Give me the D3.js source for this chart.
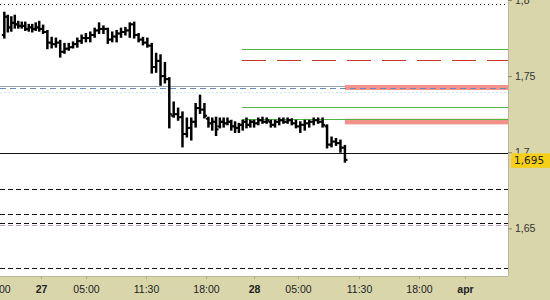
<!DOCTYPE html>
<html>
<head>
<meta charset="utf-8">
<script src="https://cdn.jsdelivr.net/npm/d3@7/dist/d3.min.js"></script>
<style>
  body { margin: 0; background: #ffffff; }
  svg { display: block; font-family: "DejaVu Sans", Verdana, sans-serif; }
</style>
</head>
<body>
<div id="chart"></div>
<script>
// bar prices (half-hour-ish bars from 26th evening to 28th morning)
const highs = [1.792,1.790,1.789,1.790,1.786,1.7855,1.7855,1.784,1.784,1.785,1.786,1.7835,1.780,1.7755,1.775,1.7735,1.7715,1.7715,1.7725,1.775,
  1.777,1.778,1.779,1.7815,1.785,1.783,1.7815,1.779,1.780,1.7815,1.782,1.785,1.7855,1.778,1.7755,1.775,1.7715,1.765,1.764,1.759,
  1.749,1.733,1.729,1.7265,1.7225,1.7225,1.732,1.7375,1.732,1.723,1.7225,1.723,1.7225,1.7225,1.7225,1.721,1.720,1.719,1.721,1.7225,
  1.721,1.721,1.7225,1.723,1.7225,1.721,1.721,1.7225,1.7225,1.7225,1.722,1.721,1.720,1.721,1.721,1.7225,1.7225,1.7225,1.718,1.710,
  1.709,1.708,1.7045];
const lows = [1.775,1.779,1.7795,1.7815,1.7815,1.7815,1.780,1.7795,1.779,1.780,1.7795,1.778,1.768,1.7685,1.769,1.7625,1.765,1.767,1.7685,1.769,
  1.7715,1.7725,1.7725,1.7755,1.778,1.778,1.7715,1.7725,1.7725,1.7755,1.777,1.7755,1.775,1.7725,1.7705,1.769,1.752,1.7525,1.744,1.7455,
  1.716,1.723,1.721,1.7035,1.710,1.708,1.7165,1.7255,1.7225,1.7165,1.7145,1.711,1.716,1.7165,1.718,1.7145,1.713,1.713,1.7145,1.716,
  1.7165,1.7165,1.718,1.719,1.719,1.7165,1.7165,1.718,1.719,1.719,1.718,1.716,1.713,1.7145,1.7165,1.718,1.719,1.7165,1.7028,1.7035,
  1.7045,1.700,1.6935];
const opens = [1.777,1.789,1.782,1.785,1.784,1.783,1.783,1.781,1.782,1.781,1.782,1.781,1.779,1.772,1.771,1.772,1.766,1.768,1.769,1.771,
  1.773,1.775,1.775,1.777,1.780,1.781,1.781,1.774,1.776,1.778,1.779,1.780,1.784,1.777,1.774,1.772,1.770,1.756,1.760,1.750,
  1.748,1.724,1.725,1.723,1.712,1.716,1.720,1.729,1.728,1.722,1.719,1.720,1.717,1.720,1.719,1.720,1.717,1.716,1.718,1.720,
  1.718,1.720,1.719,1.721,1.720,1.720,1.718,1.720,1.721,1.720,1.721,1.719,1.717,1.718,1.719,1.720,1.721,1.720,1.717,1.705,
  1.707,1.706,1.703];
const closes = [1.789,1.782,1.785,1.784,1.783,1.783,1.781,1.782,1.781,1.782,1.781,1.779,1.772,1.771,1.772,1.766,1.768,1.769,1.771,1.773,
  1.775,1.775,1.777,1.780,1.781,1.781,1.774,1.776,1.778,1.779,1.780,1.784,1.777,1.774,1.772,1.770,1.756,1.760,1.750,1.748,
  1.725,1.725,1.723,1.712,1.716,1.720,1.729,1.728,1.724,1.719,1.720,1.715,1.720,1.719,1.720,1.717,1.716,1.718,1.720,1.718,
  1.720,1.719,1.721,1.720,1.721,1.718,1.720,1.721,1.720,1.721,1.719,1.717,1.718,1.719,1.720,1.721,1.720,1.718,1.705,1.707,
  1.706,1.703,1.695];

// first and last bar time, hours from the 27th 00:00
const firstBarHour = -5.0;
const lastBarHour = 34.0;

// time axis
const tickHours = [-6, 0, 5, 11.5, 18, 24, 29, 35.5, 42, 48];
const tickLabels = ["18:00", "27", "05:00", "11:30", "18:00", "28", "05:00", "11:30", "18:00", "apr"];
const tickPixels = [-3, 41, 86, 146, 206, 254, 298, 359, 419, 465];

// price axis
const priceTicks = [1.65, 1.7, 1.75, 1.8];
const lastPrice = 1.695;

// horizontal levels: price, start hour (null = from left edge), end hour (null = to right edge)
const levelPrices = [1.7974, 1.7677, 1.7606, 1.7437, 1.742, 1.7395, 1.7295, 1.722, 1.6992, 1.6756, 1.6592, 1.6534, 1.6522, 1.624];
const levelStarts = [null, 22.5, 22.5, null, null, null, 22.5, 22.5, null, null, null, null, null, null];
const levelEnds = [null, null, null, 34.0, null, null, null, null, null, null, null, null, null, null];
const levelKinds = ["dotted", "green", "reddash", "gray", "bluedash", "cyandot", "green", "green", "black", "dash", "dash", "dash", "pinkdash", "dash"];

// salmon zones
const zoneHigh = [1.7442, 1.7220];
const zoneLow = [1.7409, 1.7183];
const zoneStart = 34.0;

const W = 550, H = 300;
const plotW = 508, plotH = 276;

const svg = d3.select("#chart").append("svg")
  .attr("width", W)
  .attr("height", H);

// axis backgrounds
svg.append("rect").attr("width", W).attr("height", H).attr("fill", "#d9d6ab");
svg.append("rect").attr("width", plotW).attr("height", plotH).attr("fill", "#ffffff");

const x = d3.scaleLinear().domain(tickHours).range(tickPixels);
const y = d3.scaleLinear().domain([1.6187, 1.8]).range([plotH, 0]);

const plot = svg.append("g");

const styles = {
  dotted:   { color: "#222", width: 1, dash: "1,3" },
  green:    { color: "#4fb63f", width: 1, dash: null },
  reddash:  { color: "#c0392b", width: 1, dash: "24,11" },
  gray:     { color: "#9aa4b0", width: 1, dash: null },
  bluedash: { color: "#7088b8", width: 1, dash: "6,4" },
  cyandot:  { color: "#cfe8f2", width: 1, dash: "2,2" },
  black:    { color: "#111", width: 1, dash: null },
  dash:     { color: "#111", width: 1, dash: "5,3" },
  pinkdash: { color: "#c99ac9", width: 1, dash: "5,3" }
};

// salmon zones
plot.selectAll(".zone")
  .data(zoneHigh.map((h, i) => ({ hi: h, lo: zoneLow[i] })))
  .enter().append("rect")
  .attr("class", "zone")
  .attr("x", x(zoneStart))
  .attr("width", plotW - x(zoneStart))
  .attr("y", d => y(d.hi))
  .attr("height", d => y(d.lo) - y(d.hi))
  .attr("fill", "#f2928a");

// levels
plot.selectAll(".level")
  .data(levelPrices.map((p, i) => ({ p: p, s: levelStarts[i], e: levelEnds[i], k: levelKinds[i] })))
  .enter().append("line")
  .attr("class", "level")
  .attr("x1", d => d.s === null ? 0 : x(d.s))
  .attr("x2", d => d.e === null ? plotW : x(d.e))
  .attr("y1", d => Math.round(y(d.p)) + 0.5)
  .attr("y2", d => Math.round(y(d.p)) + 0.5)
  .attr("stroke", d => styles[d.k].color)
  .attr("stroke-width", d => styles[d.k].width)
  .attr("stroke-dasharray", d => styles[d.k].dash);

// OHLC bars
const step = (lastBarHour - firstBarHour) / (highs.length - 1);
const bars = highs.map((h, i) => ({
  t: firstBarHour + i * step,
  h: h, l: lows[i], o: opens[i], c: closes[i]
}));

const barG = plot.selectAll(".bar")
  .data(bars)
  .enter().append("g")
  .attr("class", "bar");

barG.append("line")
  .attr("x1", d => x(d.t)).attr("x2", d => x(d.t))
  .attr("y1", d => y(d.h) - 0.5).attr("y2", d => y(d.l) + 0.5)
  .attr("stroke", "#000").attr("stroke-width", 2.5);

barG.append("line")
  .attr("x1", d => x(d.t) - 2.5).attr("x2", d => x(d.t))
  .attr("y1", d => y(d.o)).attr("y2", d => y(d.o))
  .attr("stroke", "#000").attr("stroke-width", 2);

barG.append("line")
  .attr("x1", d => x(d.t)).attr("x2", d => x(d.t) + 2.5)
  .attr("y1", d => y(d.c)).attr("y2", d => y(d.c))
  .attr("stroke", "#000").attr("stroke-width", 2);

// plot border
svg.append("line").attr("x1", plotW + 0.5).attr("x2", plotW + 0.5).attr("y1", 0).attr("y2", plotH)
  .attr("stroke", "#b9b797");
svg.append("line").attr("x1", 0).attr("x2", plotW).attr("y1", plotH + 0.5).attr("y2", plotH + 0.5)
  .attr("stroke", "#b9b797");

// price axis
const locale = d3.formatLocale({ decimal: ",", thousands: ".", grouping: [3], currency: ["", ""] });
const fmt = p => locale.format(",.3~f")(p);

const yAxis = svg.append("g")
  .attr("transform", `translate(${plotW},0)`)
  .call(d3.axisRight(y).tickValues(priceTicks).tickSize(4).tickPadding(3).tickFormat(fmt));
yAxis.select(".domain").remove();
yAxis.selectAll("line").attr("stroke", "#8a8870");
yAxis.selectAll("text").attr("fill", "#333").style("font-size", "10.5px");

// time axis
const xAxis = svg.append("g")
  .attr("transform", `translate(0,${plotH})`)
  .call(d3.axisBottom(x).tickValues(tickHours).tickSize(3).tickPadding(7)
    .tickFormat((d, i) => tickLabels[i]));
xAxis.select(".domain").remove();
xAxis.selectAll("line").attr("stroke", "#b0ae90");
xAxis.selectAll("text")
  .attr("fill", "#222")
  .style("font-size", "10.5px")
  .style("font-weight", (d, i) => tickLabels[i].indexOf(":") < 0 ? "bold" : "normal");

// last price marker
const lp = svg.append("g").attr("transform", `translate(${plotW + 3},${y(lastPrice)})`);
lp.append("rect")
  .attr("x", 0).attr("y", -6.5)
  .attr("width", 39).attr("height", 14.5)
  .attr("fill", "#f6cf17");
lp.append("text")
  .attr("x", 3).attr("y", 4.5)
  .attr("fill", "#222")
  .style("font-size", "10.5px")
  .text(fmt(lastPrice));
</script>
</body>
</html>
